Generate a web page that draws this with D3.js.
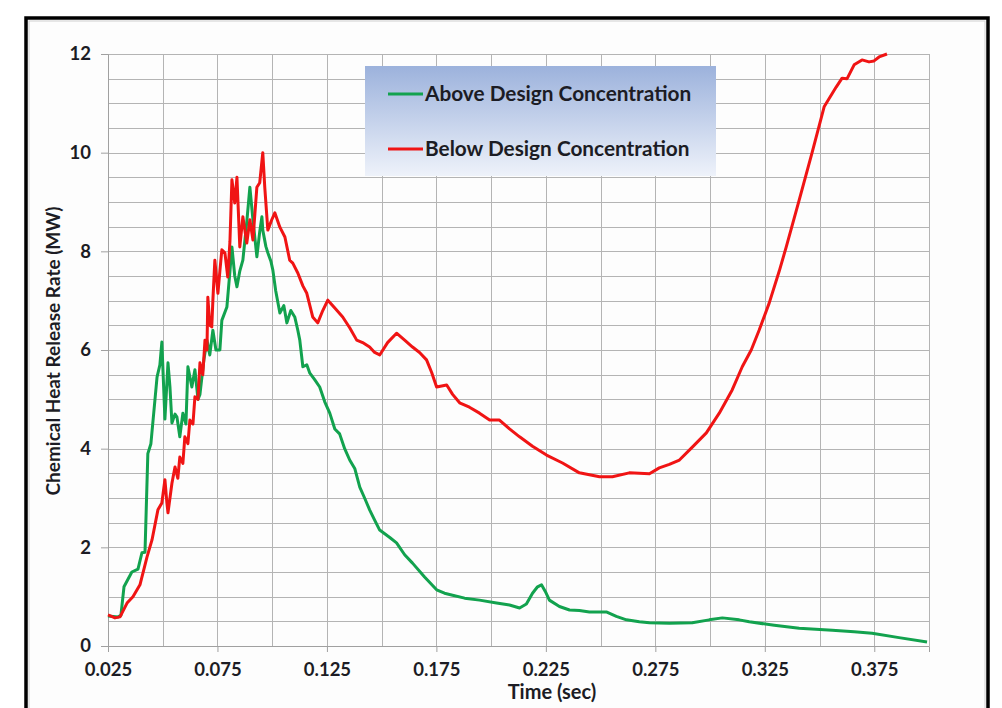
<!DOCTYPE html>
<html>
<head>
<meta charset="utf-8">
<script src="https://cdn.jsdelivr.net/npm/d3@7"></script>
<style>
  body { margin: 0; background: #fff; }
  text { font-family: Lato, "Open Sans", sans-serif; font-weight: bold; fill: #1c1c24; }
</style>
</head>
<body>
<div id="chart-container"></div>
<script>
// Above design concentration (green)
const aboveTime = [0.0250, 0.0296, 0.0309, 0.0323, 0.0359, 0.0387, 0.0405, 0.0419, 0.0432, 0.0446,
  0.0474, 0.0487, 0.0496, 0.0510, 0.0524, 0.0533, 0.0542, 0.0556, 0.0565, 0.0578,
  0.0592, 0.0606, 0.0615, 0.0633, 0.0647, 0.0661, 0.0670, 0.0688, 0.0702, 0.0715,
  0.0729, 0.0743, 0.0761, 0.0770, 0.0793, 0.0807, 0.0816, 0.0829, 0.0839, 0.0852,
  0.0866, 0.0884, 0.0898, 0.0912, 0.0930, 0.0943, 0.0953, 0.0957, 0.0971, 0.0980,
  0.0994, 0.1003, 0.1016, 0.1035, 0.1053, 0.1067, 0.1085, 0.1103, 0.1117, 0.1126,
  0.1140, 0.1158, 0.1172, 0.1194, 0.1217, 0.1240, 0.1263, 0.1286, 0.1308, 0.1331,
  0.1354, 0.1377, 0.1400, 0.1422, 0.1445, 0.1468, 0.1491, 0.1537, 0.1568, 0.1605,
  0.1641, 0.1696, 0.1751, 0.1787, 0.1824, 0.1879, 0.1947, 0.2025, 0.2084, 0.2130,
  0.2161, 0.2189, 0.2212, 0.2230, 0.2248, 0.2266, 0.2312, 0.2358, 0.2403, 0.2449,
  0.2526, 0.2572, 0.2618, 0.2677, 0.2723, 0.2814, 0.2919, 0.2996, 0.3056, 0.3133,
  0.3179, 0.3293, 0.3407, 0.3558, 0.3658, 0.3740, 0.3863, 0.3991];
const aboveHRR = [0.61, 0.59, 0.62, 1.20, 1.50, 1.56, 1.89, 1.90, 3.90, 4.10,
  5.45, 5.70, 6.16, 4.60, 5.74, 5.25, 4.52, 4.70, 4.64, 4.24,
  4.72, 4.50, 5.66, 5.25, 5.60, 5.00, 5.10, 5.80, 6.20, 5.90,
  6.40, 6.00, 6.00, 6.60, 6.87, 7.60, 8.09, 7.50, 7.28, 7.60,
  7.82, 8.60, 9.30, 8.64, 7.89, 8.40, 8.70, 8.43, 8.10, 7.97,
  7.80, 7.62, 7.20, 6.75, 6.90, 6.55, 6.80, 6.67, 6.40, 6.20,
  5.66, 5.70, 5.53, 5.40, 5.25, 4.95, 4.72, 4.40, 4.30, 4.00,
  3.77, 3.60, 3.22, 3.00, 2.76, 2.55, 2.35, 2.20, 2.09, 1.85,
  1.68, 1.40, 1.14, 1.07, 1.03, 0.97, 0.93, 0.87, 0.83, 0.77,
  0.85, 1.07, 1.20, 1.24, 1.10, 0.93, 0.80, 0.73, 0.72, 0.69,
  0.69, 0.60, 0.53, 0.49, 0.47, 0.46, 0.47, 0.53, 0.57, 0.53,
  0.49, 0.42, 0.36, 0.32, 0.29, 0.26, 0.17, 0.08];

// Below design concentration (red)
const belowTime = [0.0250, 0.0282, 0.0305, 0.0337, 0.0364, 0.0396, 0.0428, 0.0451, 0.0478, 0.0496,
  0.0510, 0.0519, 0.0524, 0.0542, 0.0556, 0.0569, 0.0578, 0.0592, 0.0601, 0.0615,
  0.0624, 0.0638, 0.0647, 0.0661, 0.0670, 0.0683, 0.0693, 0.0702, 0.0706, 0.0715,
  0.0724, 0.0729, 0.0738, 0.0752, 0.0761, 0.0770, 0.0784, 0.0797, 0.0807, 0.0816,
  0.0829, 0.0839, 0.0852, 0.0866, 0.0884, 0.0898, 0.0912, 0.0930, 0.0943, 0.0957,
  0.0966, 0.0980, 0.0998, 0.1012, 0.1035, 0.1058, 0.1080, 0.1094, 0.1117, 0.1140,
  0.1158, 0.1185, 0.1208, 0.1231, 0.1254, 0.1286, 0.1322, 0.1354, 0.1386, 0.1413,
  0.1445, 0.1468, 0.1491, 0.1527, 0.1568, 0.1605, 0.1641, 0.1673, 0.1705, 0.1728,
  0.1751, 0.1797, 0.1824, 0.1856, 0.1901, 0.1947, 0.1993, 0.2038, 0.2084, 0.2130,
  0.2189, 0.2253, 0.2326, 0.2403, 0.2495, 0.2554, 0.2631, 0.2723, 0.2768, 0.2814,
  0.2860, 0.2919, 0.2983, 0.3042, 0.3101, 0.3147, 0.3188, 0.3224, 0.3270, 0.3316,
  0.3348, 0.3407, 0.3466, 0.3521, 0.3576, 0.3603, 0.3626, 0.3658, 0.3694, 0.3726,
  0.3749, 0.3772, 0.3808];
const belowHRR = [0.63, 0.57, 0.59, 0.87, 1.00, 1.24, 1.80, 2.15, 2.76, 2.90,
  3.37, 2.90, 2.70, 3.30, 3.63, 3.40, 3.83, 3.70, 4.24, 4.10,
  4.58, 4.50, 5.05, 5.00, 5.74, 5.50, 6.20, 6.00, 7.07, 6.50,
  6.47, 7.00, 7.82, 7.15, 7.60, 8.03, 7.97, 7.48, 8.20, 9.45,
  8.98, 9.50, 8.09, 8.70, 8.17, 8.64, 8.23, 9.30, 9.39, 10.00,
  9.30, 8.43, 8.64, 8.78, 8.49, 8.29, 7.82, 7.76, 7.56, 7.30,
  7.15, 6.67, 6.55, 6.80, 7.01, 6.85, 6.67, 6.45, 6.20, 6.15,
  6.06, 5.95, 5.90, 6.15, 6.34, 6.20, 6.06, 5.95, 5.80, 5.55,
  5.25, 5.29, 5.10, 4.93, 4.84, 4.72, 4.58, 4.58, 4.40, 4.24,
  4.05, 3.87, 3.71, 3.51, 3.43, 3.43, 3.51, 3.49, 3.61, 3.68,
  3.77, 4.03, 4.32, 4.72, 5.19, 5.66, 6.00, 6.40, 6.95, 7.60,
  8.09, 9.04, 10.00, 10.93, 11.33, 11.51, 11.50, 11.78, 11.88, 11.84,
  11.86, 11.94, 12.00];

const xTickLabels = [0.025, 0.075, 0.125, 0.175, 0.225, 0.275, 0.325, 0.375];
const yTickLabels = [0, 2, 4, 6, 8, 10, 12];
const seriesNames = ["Above Design Concentration", "Below Design Concentration"];
const seriesColors = ["#12a24e", "#f01414"];

const width = 1002;
const height = 708;
const margin = { top: 54, right: 73, bottom: 62, left: 108 };
const innerW = width - margin.left - margin.right;
const innerH = height - margin.top - margin.bottom;

const svg = d3
  .select("#chart-container")
  .append("svg")
  .attr("width", width)
  .attr("height", height);

// outer frame
svg.append("rect")
  .attr("x", 26).attr("y", 18).attr("width", 962).attr("height", 710)
  .attr("fill", "#fdfdfd").attr("stroke", "#000").attr("stroke-width", 3.5);
svg.append("rect")
  .attr("x", 29).attr("y", 21).attr("width", 956).attr("height", 704)
  .attr("fill", "none").attr("stroke", "#cfcfcf").attr("stroke-width", 1);

const g = svg.append("g").attr("transform", `translate(${margin.left},${margin.top})`);

const x = d3.scaleLinear().domain([0.025, 0.4]).range([0, innerW]);
const y = d3.scaleLinear().domain([0, 12]).range([innerH, 0]);

// grid
g.append("g")
  .selectAll("line")
  .data(d3.range(0, 12.001, 0.5))
  .join("line")
  .attr("x1", 0).attr("x2", innerW)
  .attr("y1", (d) => Math.round(y(d)) + 0.5).attr("y2", (d) => Math.round(y(d)) + 0.5)
  .attr("stroke", "#b4b4b4").attr("stroke-width", 1);

g.append("g")
  .selectAll("line")
  .data(d3.range(0.025, 0.4001, 0.025))
  .join("line")
  .attr("x1", (d) => Math.round(x(d)) + 0.5).attr("x2", (d) => Math.round(x(d)) + 0.5)
  .attr("y1", 0).attr("y2", innerH)
  .attr("stroke", "#b4b4b4").attr("stroke-width", 1);

// axes
const xAxis = g.append("g")
  .attr("transform", `translate(0,${innerH})`)
  .call(d3.axisBottom(x).tickValues(xTickLabels).tickFormat(d3.format(".3f")).tickSize(6).tickPadding(11));
const yAxis = g.append("g")
  .call(d3.axisLeft(y).tickValues(yTickLabels).tickSize(7).tickPadding(10));

xAxis.select(".domain").attr("stroke", "#a0a0a0");
yAxis.select(".domain").attr("stroke", "#a0a0a0");
xAxis.selectAll(".tick line").attr("stroke", "#a0a0a0");
yAxis.selectAll(".tick line").attr("stroke", "#a0a0a0");
xAxis.selectAll("text").style("font-size", "18.5px").attr("fill", "#1c1c24");
yAxis.selectAll("text").style("font-size", "18.5px").attr("fill", "#1c1c24");

// axis titles
svg.append("text")
  .attr("x", 552)
  .attr("y", 699)
  .attr("text-anchor", "middle")
  .style("font-size", "20px")
  .text("Time (sec)");

svg.append("text")
  .attr("transform", "translate(60,351) rotate(-90)")
  .attr("text-anchor", "middle")
  .style("font-size", "19px")
  .text("Chemical Heat Release Rate (MW)");

// lines
const aboveData = aboveTime.map((t, i) => ({ t, v: aboveHRR[i] }));
const belowData = belowTime.map((t, i) => ({ t, v: belowHRR[i] }));

const line = d3.line().x((d) => x(d.t)).y((d) => y(d.v));

g.append("path")
  .datum(aboveData)
  .attr("fill", "none")
  .attr("stroke", seriesColors[0])
  .attr("stroke-width", 3)
  .attr("stroke-linejoin", "round")
  .attr("d", line);

g.append("path")
  .datum(belowData)
  .attr("fill", "none")
  .attr("stroke", seriesColors[1])
  .attr("stroke-width", 3)
  .attr("stroke-linejoin", "round")
  .attr("d", line);

// legend
const defs = svg.append("defs");
const grad = defs.append("linearGradient")
  .attr("id", "legendFill")
  .attr("x1", 0).attr("y1", 0).attr("x2", 0).attr("y2", 1);
grad.append("stop").attr("offset", "0%").attr("stop-color", "#9cb2dc");
grad.append("stop").attr("offset", "100%").attr("stop-color", "#eef2fa");

const legend = svg.append("g").attr("transform", "translate(365,66)");
legend.append("rect")
  .attr("width", 351).attr("height", 110)
  .attr("fill", "url(#legendFill)");

seriesNames.forEach((name, i) => {
  const ly = 28 + i * 55;
  legend.append("line")
    .attr("x1", 23).attr("x2", 58)
    .attr("y1", ly).attr("y2", ly)
    .attr("stroke", seriesColors[i]).attr("stroke-width", 3);
  legend.append("text")
    .attr("x", 60).attr("y", ly + 7)
    .style("font-size", "20.8px")
    .attr("fill", "#141a30")
    .text(name);
});
</script>
</body>
</html>
